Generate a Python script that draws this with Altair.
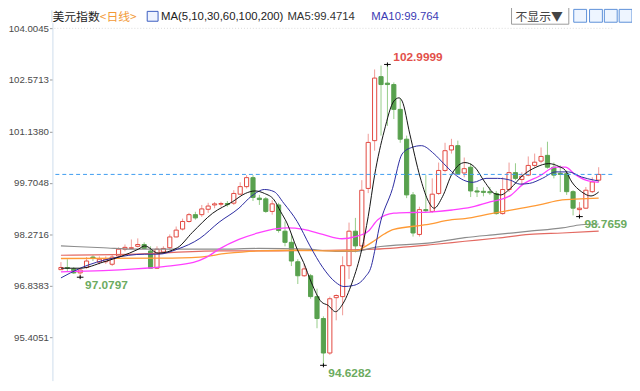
import altair as alt
import pandas as pd

# ---------------- data ----------------
opens = [97.29, 97.35, 97.31, 97.20, 97.35, 97.64, 97.50, 97.51, 97.44, 97.67,
         97.86, 97.88, 97.94, 97.99, 97.81, 97.33, 97.78, 97.90, 98.20, 98.42,
         98.63, 98.82, 98.82, 98.97, 99.09, 99.11, 99.13, 99.14, 99.39, 99.60,
         99.85, 99.28, 99.26, 98.91, 99.09, 98.36, 98.05, 97.51, 97.12, 97.12,
         96.54, 95.93, 94.97, 96.51, 96.54, 97.40, 98.36, 97.95, 99.55, 100.88,
         102.66, 102.48, 102.44, 101.75, 100.92, 99.37, 98.27, 98.96, 98.91, 99.41,
         100.05, 100.62, 100.74, 99.98, 100.14, 99.48, 99.47, 99.46, 99.41, 98.85,
         99.52, 99.99, 99.80, 99.92, 100.19, 100.31, 100.47, 100.14, 99.97, 99.96,
         99.46, 98.96, 99.00, 99.46, 99.78]
highs = [97.50, 97.58, 97.36, 97.31, 97.64, 97.69, 97.66, 97.66, 97.72, 97.91,
         97.99, 98.13, 98.16, 98.05, 97.94, 97.94, 97.94, 98.27, 98.49, 98.71,
         98.87, 98.90, 99.09, 99.15, 99.17, 99.18, 99.20, 99.50, 99.72, 99.92,
         99.92, 99.37, 99.31, 99.22, 99.15, 98.63, 98.27, 97.58, 97.44, 97.17,
         96.76, 95.99, 96.54, 96.60, 97.66, 98.60, 98.73, 99.78, 101.07, 102.86,
         102.97, 102.9999, 102.50, 102.06, 101.02, 99.45, 99.04, 99.92, 99.83, 100.27,
         100.82, 100.93, 100.88, 100.41, 100.25, 99.59, 99.58, 99.59, 99.48, 99.86,
         100.27, 100.25, 100.00, 100.44, 100.52, 100.69, 100.85, 100.27, 100.19, 100.05,
         99.50, 99.17, 99.59, 99.86, 100.14]
lows = [97.28, 97.25, 97.17, 97.0797, 97.31, 97.53, 97.44, 97.45, 97.39, 97.64,
        97.80, 97.86, 97.91, 97.86, 97.33, 97.31, 97.75, 97.86, 98.19, 98.38,
        98.60, 98.68, 98.76, 98.87, 99.00, 99.04, 99.04, 99.09, 99.37, 99.55,
        99.20, 99.09, 98.87, 98.82, 98.32, 97.94, 97.39, 96.89, 97.09, 96.48,
        95.66, 94.6282, 94.92, 95.88, 96.02, 97.03, 97.77, 97.86, 99.42, 100.60,
        101.02, 101.29, 101.48, 100.82, 99.28, 98.21, 98.21, 98.87, 98.87, 99.37,
        100.00, 100.52, 99.92, 99.86, 99.31, 99.31, 99.33, 99.37, 98.82, 98.82,
        99.45, 99.78, 99.64, 99.89, 100.14, 100.25, 100.10, 99.83, 99.45, 99.37,
        98.80, 98.7659, 98.98, 99.42, 99.72]
closes = [97.35, 97.33, 97.20, 97.28, 97.53, 97.61, 97.58, 97.58, 97.64, 97.86,
          97.91, 97.90, 97.99, 97.88, 97.33, 97.86, 97.88, 98.20, 98.39, 98.63,
          98.82, 98.73, 98.98, 99.06, 99.12, 99.13, 99.10, 99.41, 99.60, 99.85,
          99.30, 99.24, 98.91, 99.12, 98.38, 98.05, 97.53, 97.12, 97.31, 96.54,
          95.93, 94.97, 96.48, 96.57, 97.40, 98.36, 97.95, 99.50, 100.83, 102.62,
          102.44, 102.44, 101.75, 100.92, 99.37, 98.31, 98.96, 98.93, 99.39, 100.05,
          100.60, 100.74, 99.96, 100.10, 99.48, 99.45, 99.44, 99.43, 98.85, 99.52,
          99.99, 99.83, 99.89, 100.19, 100.28, 100.44, 100.14, 99.92, 99.94, 99.46,
          99.00, 99.00, 99.50, 99.73, 99.94]

ma5_idx = [0, 3, 6.6, 12.1, 13.1, 15.2, 18.2, 20.5, 23.7, 26.8, 28.8, 30.3, 31.8, 33.3,
           34.3, 35.3, 36.9, 37.9, 39.1, 40.7, 41.7, 42.9, 43.9, 45.5, 47.0, 48.0, 49.0,
           50.5, 52.0, 52.8, 53.3, 54.5, 56.1, 57.3, 58.3, 59.6, 61.1, 63.1, 64.6, 66.2,
           67.7, 68.7, 70.2, 72.2, 74.2, 76.2, 77.8, 78.8, 79.8, 81.3, 82.8, 84]
ma5_val = [97.33, 97.33, 97.50, 97.86, 97.95, 97.75, 97.90, 98.32, 98.86, 99.18, 99.41,
           99.48, 99.41, 99.23, 98.91, 98.59, 97.86, 97.49, 96.94, 96.39, 96.30, 96.12,
           96.30, 96.94, 97.86, 98.77, 99.92, 101.15, 101.98, 102.07, 101.98, 101.06,
           99.87, 99.23, 99.00, 99.32, 99.96, 100.27, 100.15, 99.73, 99.41, 99.37, 99.55,
           99.92, 100.14, 100.24, 100.16, 100.05, 99.73, 99.46, 99.34, 99.45]

ma10_idx = [0, 3, 8.1, 13.1, 15.2, 18.2, 21.7, 24.7, 27.8, 29.8, 31.8, 33.3, 34.8, 36.9,
            38.9, 40.9, 42.9, 44.2, 45.7, 47.5, 48.5, 49.0, 49.7, 51.8, 53.3, 54.8, 56.3,
            58.3, 59.8, 61.4, 62.9, 64.4, 66.4, 68.2, 70.2, 71.7, 73.2, 75.2, 77.3, 79.3,
            81.3, 83.3, 84]
ma10_val = [97.06, 97.33, 97.61, 97.72, 97.72, 97.86, 98.16, 98.61, 99.00, 99.34, 99.52,
            99.46, 99.14, 98.63, 97.95, 97.35, 96.94, 96.82, 96.85, 97.08, 97.40, 97.80,
            98.45, 99.55, 100.51, 100.69, 100.74, 100.51, 100.24, 99.96, 99.78, 99.72,
            99.83, 99.83, 99.78, 99.67, 99.69, 99.83, 100.01, 100.01, 99.87, 99.78, 99.76]

ma30_idx = [0, 6.6, 11.6, 16.7, 20.7, 22.7, 24.7, 27.8, 30.8, 33.8, 35.3, 37.9, 40.9, 43.9,
            46.0, 48.0, 49.5, 52.0, 55.0, 58.1, 61.1, 64.1, 67.2, 70.2, 72.2, 74.7, 77.3,
            78.8, 80.3, 82.0, 84]
ma30_val = [97.23, 97.26, 97.31, 97.39, 97.49, 97.63, 97.86, 98.13, 98.31, 98.43, 98.45,
            98.41, 98.27, 98.15, 98.21, 98.36, 98.68, 98.86, 98.88, 98.90, 98.95, 99.03,
            99.18, 99.35, 99.67, 99.89, 100.14, 100.14, 99.94, 99.78, 99.72]

ma60_idx = [0, 15.7, 21.7, 25.8, 30.8, 36.9, 42.9, 46.0, 47.5, 49.0, 50.5, 52.0, 57.1,
            61.1, 63.1, 67.2, 70.7, 74.7, 78.3, 80.3, 84]
ma60_val = [97.60, 97.61, 97.64, 97.74, 97.81, 97.83, 97.81, 97.81, 97.93, 98.10, 98.28,
            98.41, 98.54, 98.68, 98.71, 98.85, 98.96, 99.09, 99.23, 99.25, 99.28]

ma100_idx = [0, 6.6, 11.6, 24.7, 30.8, 38.4, 42.9, 46.0, 49.0, 58.1, 63.1, 68.2, 73.2,
             78.3, 81.3, 84]
ma100_val = [97.95, 97.90, 97.86, 97.86, 97.88, 97.86, 97.80, 97.80, 97.91, 98.04, 98.18,
             98.27, 98.36, 98.45, 98.54, 98.56]

ma200_idx = [0, 11.6, 24.7, 31.8, 41.9, 49.0, 58.1, 63.1, 68.2, 73.2, 78.3, 84]
ma200_val = [97.69, 97.72, 97.81, 97.81, 97.83, 97.86, 97.99, 98.08, 98.17, 98.27, 98.31,
             98.36]

y_ticks = [95.4051, 96.8383, 98.2716, 99.7048, 101.1380, 102.5713, 104.0045]
last_price = 99.94
top_level = 104.0045

marker_idx = [3, 41, 51, 81]
marker_val = [97.0797, 94.6282, 102.9999, 98.7659]
marker_kind = ["low", "low", "high", "low"]

title_name = "美元指数"
title_period = "<日线>"
ma_caption = "MA(5,10,30,60,100,200)"
ma5_caption = "MA5:99.4714"
ma10_caption = "MA10:99.764"
dropdown_caption = "不显示▼"

# ---------------- chart ----------------
NUM_FONT = "Liberation Sans"
CJK_FONT = "Noto Sans CJK SC"

n = len(opens)
candles = pd.DataFrame({"idx": list(range(n)), "open": opens, "high": highs,
                        "low": lows, "close": closes})
candles["dir"] = ["up" if c >= o else "down" for o, c in zip(opens, closes)]

xscale = alt.Scale(domain=[-0.56, 85.35], nice=False, zero=False)
yscale = alt.Scale(domain=[94.2021, 104.1746], nice=False, zero=False)
X = alt.X("idx:Q", scale=xscale, axis=None)

yaxis = alt.Axis(values=y_ticks, format=".4f", title=None, grid=False,
                 labelFontSize=9.8, labelColor="#4a4a4a", labelFont=NUM_FONT,
                 tickColor="#9a9a9a", tickSize=3, domainColor="#cddcec",
                 labelPadding=1)


def Y(field):
    return alt.Y(field, scale=yscale, axis=yaxis)


wicks = alt.Chart(candles).mark_rule(strokeWidth=1).encode(
    x=X,
    y=Y("low:Q"),
    y2="high:Q",
    color=alt.Color("dir:N", scale=alt.Scale(domain=["up", "down"],
                                             range=["#f09a96", "#95cc88"]),
                    legend=None),
)

bodies = alt.Chart(candles).mark_bar(size=4.2, strokeWidth=1).encode(
    x=X,
    y=Y("open:Q"),
    y2="close:Q",
    fill=alt.Fill("dir:N", scale=alt.Scale(domain=["up", "down"],
                                           range=["#ffffff", "#58a14e"]), legend=None),
    stroke=alt.Stroke("dir:N", scale=alt.Scale(domain=["up", "down"],
                                               range=["#e2473f", "#58a14e"]), legend=None),
)


def ma_layer(idx, val, color, width):
    df = pd.DataFrame({"idx": idx, "val": val})
    return alt.Chart(df).mark_line(color=color, strokeWidth=width,
                                   interpolate="monotone").encode(
        x=X, y=Y("val:Q"))


ma_lines = [
    ma_layer(ma200_idx, ma200_val, "#e36a62", 1.2),
    ma_layer(ma100_idx, ma100_val, "#8c8c8c", 1.2),
    ma_layer(ma60_idx, ma60_val, "#ff9a35", 1.3),
    ma_layer(ma30_idx, ma30_val, "#ff40ff", 1.3),
    ma_layer(ma10_idx, ma10_val, "#2a2aa0", 1),
    ma_layer(ma5_idx, ma5_val, "#111111", 1),
]

price_line = alt.Chart(pd.DataFrame({"v": [last_price]})).mark_rule(
    color="#3d9bf0", strokeDash=[4, 3], strokeWidth=1).encode(y=Y("v:Q"))

top_line = alt.Chart(pd.DataFrame({"v": [top_level]})).mark_rule(
    color="#dadada", strokeDash=[1, 2], strokeWidth=1).encode(y=Y("v:Q"))

markers_df = pd.DataFrame({"idx": marker_idx, "val": marker_val, "kind": marker_kind})

crosses = alt.Chart(markers_df).mark_point(
    shape="M-1,0L1,0M0,-0.6L0,0.6", size=45, filled=False, color="#000000",
    strokeWidth=1, opacity=1).encode(x=X, y=Y("val:Q"))

high_label = alt.Chart(markers_df).transform_filter(
    alt.datum.kind == "high").mark_text(
    align="left", baseline="middle", dx=6, dy=-7, fontSize=12, fontWeight="bold",
    font=NUM_FONT, color="#e2504a").encode(
    x=X, y=Y("val:Q"), text=alt.Text("val:Q", format=".4f"))

low_label = alt.Chart(markers_df).transform_filter(
    alt.datum.kind == "low").mark_text(
    align="left", baseline="middle", dx=5, dy=8, fontSize=12, fontWeight="bold",
    font=NUM_FONT, color="#6cab60").encode(
    x=X, y=Y("val:Q"), text=alt.Text("val:Q", format=".4f"))

one = pd.DataFrame({"a": [0]})


def htext(txt, x, color, font=CJK_FONT, size=12):
    return alt.Chart(one).mark_text(align="left", baseline="middle", font=font,
                                    fontSize=size, color=color).encode(
        x=alt.value(x), y=alt.value(-5), text=alt.value(txt))


def hrect(x1, x2, y1, y2, stroke, fill):
    return alt.Chart(one).mark_rect(stroke=stroke, fill=fill, strokeWidth=1).encode(
        x=alt.value(x1), x2=alt.value(x2), y=alt.value(y1), y2=alt.value(y2))


header = [
    htext(title_name, 0, "#222222"),
    htext(title_period, 48, "#f29a38"),
    hrect(96, 107, -11, -1, "#3a5cc0", "#eef3ff"),
    htext(ma_caption, 110, "#222222", font=NUM_FONT, size=11.5),
    htext(ma5_caption, 238, "#333333", font=NUM_FONT, size=11.5),
    htext(ma10_caption, 323, "#3b3bb4", font=NUM_FONT, size=11.5),
    hrect(465, 523, -15, 2, "#999999", "#ffffff"),
    htext(dropdown_caption, 469, "#444444"),
    hrect(528, 541, -13, 0, "#5b8fd8", "#eef5ff"),
    hrect(544, 557, -13, 0, "#5b8fd8", "#eef5ff"),
    hrect(559, 572, -13, 0, "#5b8fd8", "#eef5ff"),
    hrect(574, 587, -13, 0, "#5b8fd8", "#eef5ff"),
]

axis_ext = alt.Chart(one).mark_rule(color="#cddcec").encode(
    x=alt.value(-0.5), y=alt.value(-12), y2=alt.value(0))

chart = alt.layer(
    top_line, axis_ext, wicks, bodies, *ma_lines, price_line, crosses,
    high_label, low_label, *header
).properties(
    width=567, height=363,
    autosize=alt.AutoSizeParams(type="none"),
    padding={"left": 45, "top": 12, "right": 20, "bottom": 0},
    background="#ffffff",
).configure_view(stroke=None)

chart.save("out.html", embed_options={"renderer": "svg", "actions": False})
